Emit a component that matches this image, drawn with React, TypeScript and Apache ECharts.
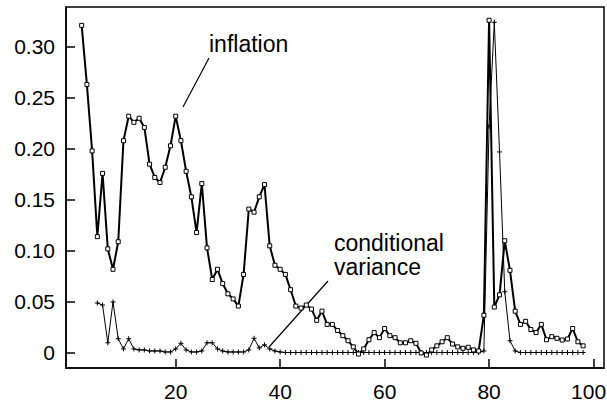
import React, { useEffect, useRef } from "react";
import * as echarts from "echarts";

// x positions start
const inflationStart = 2;
const inflationValues = [
  0.321, 0.263, 0.198, 0.114, 0.176, 0.102, 0.082, 0.109, 0.208, 0.232,
  0.226, 0.230, 0.221, 0.185, 0.172, 0.167, 0.182, 0.203, 0.232, 0.208,
  0.178, 0.153, 0.118, 0.166, 0.103, 0.072, 0.082, 0.068, 0.058, 0.053,
  0.046, 0.077, 0.141, 0.138, 0.153, 0.165, 0.105, 0.086, 0.082, 0.077,
  0.062, 0.046, 0.044, 0.047, 0.043, 0.032, 0.041, 0.028, 0.028, 0.022,
  0.017, 0.012, 0.006, -0.001, 0.004, 0.013, 0.020, 0.015, 0.024, 0.017,
  0.015, 0.010, 0.010, 0.012, 0.0095, 0.000, -0.002, 0.003, 0.007, 0.011,
  0.015, 0.0088, 0.006, 0.0046, 0.0056, 0.003, 0.002, 0.037, 0.326, 0.045,
  0.057, 0.110, 0.081, 0.041, 0.028, 0.031, 0.023, 0.020, 0.028, 0.013,
  0.016, 0.0144, 0.0127, 0.0137, 0.024, 0.011, 0.007,
];

const varianceStart = 5;
const varianceValues = [
  0.049, 0.047, 0.010, 0.050, 0.014, 0.004, 0.014, 0.004, 0.003, 0.003,
  0.002, 0.002, 0.002, 0.001, 0.001, 0.004, 0.0095, 0.003, 0.001, 0.001,
  0.002, 0.010, 0.010, 0.004, 0.002, 0.001, 0.001, 0.001, 0.001, 0.003,
  0.0144, 0.005, 0.008, 0.004, 0.002, 0.001, 0.0005, 0.0005, 0.0005, 0.0005,
  0.0005, 0.0005, 0.0005, 0.0005, 0.0005, 0.0005, 0.0005, 0.0005, 0.0005, 0.0005,
  0.0005, 0.0005, 0.0005, 0.0005, 0.0005, 0.0005, 0.0005, 0.0005, 0.0005, 0.0005,
  0.0005, 0.0005, 0.0005, 0.0005, 0.0005, 0.0005, 0.0005, 0.0005, 0.0005, 0.0005,
  0.0005, 0.0005, 0.0005, 0.0005, 0.002, 0.222, 0.324, 0.197, 0.060, 0.012,
  0.002, 0.0005, 0.0005, 0.0005, 0.0005, 0.0005, 0.0005, 0.0005, 0.0005, 0.0005,
  0.0005, 0.0005, 0.0005, 0.0005,
];

const xTicks = [20, 40, 60, 80, 100];
const yTicks = [0, 0.05, 0.1, 0.15, 0.2, 0.25, 0.3];

const FONT = '"Liberation Sans", Arial, Helvetica, sans-serif';

export default function App() {
  const ref = useRef<HTMLDivElement>(null);
  useEffect(() => {
    document.body.style.margin = "0";
    const chart = echarts.init(ref.current!, undefined, { renderer: "svg" });
    const inflationData = inflationValues.map((v, i) => [inflationStart + i, v]);
    const varianceData = varianceValues.map((v, i) => [varianceStart + i, v]);
    chart.setOption({
      animation: false,
      backgroundColor: "#fff",
      grid: {
        left: 66,
        top: 7,
        right: 3,
        bottom: 35,
        outerBoundsMode: "none",
        containLabel: false,
        show: true,
        borderColor: "#000",
        borderWidth: 1.5,
        backgroundColor: "transparent",
      },
      xAxis: {
        type: "value",
        min: -1,
        max: 102,
        splitLine: { show: false },
        axisLine: { show: true, onZero: false, lineStyle: { color: "#000", width: 1.5 } },
        axisTick: {
          show: true,
          inside: true,
          length: 9,
          customValues: xTicks,
          lineStyle: { color: "#000", width: 1.5 },
        },
        axisLabel: {
          customValues: xTicks,
          color: "#000",
          fontSize: 21,
          fontFamily: FONT,
          margin: 13,
          formatter: (v: number) => (v === 100 ? "{last|100}" : String(v)),
          rich: {
            last: {
              color: "#000",
              fontSize: 21,
              fontFamily: FONT,
              padding: [0, 10, 0, 0],
            },
          },
        },
      },
      yAxis: {
        type: "value",
        min: -0.0147,
        max: 0.339,
        splitLine: { show: false },
        axisLine: { show: true, onZero: false, lineStyle: { color: "#000", width: 1.5 } },
        axisTick: {
          show: true,
          inside: true,
          length: 9,
          customValues: yTicks,
          lineStyle: { color: "#000", width: 1.5 },
        },
        axisLabel: {
          customValues: yTicks,
          color: "#000",
          fontSize: 21,
          fontFamily: FONT,
          margin: 11,
          formatter: (v: number) => (v === 0 ? "0" : v.toFixed(2)),
        },
      },
      series: [
        {
          type: "line",
          data: varianceData,
          symbol: "path://M4,0L4,8M0,4L8,4",
          symbolSize: 5,
          showAllSymbol: true,
          lineStyle: { color: "#000", width: 1 },
          itemStyle: { color: "#000", borderColor: "#000", borderWidth: 1 },
          z: 2,
        },
        {
          type: "line",
          data: inflationData,
          symbol: "rect",
          symbolSize: 4,
          showAllSymbol: true,
          lineStyle: { color: "#000", width: 2 },
          itemStyle: { color: "#fff", borderColor: "#000", borderWidth: 1 },
          z: 3,
        },
      ],
      graphic: [
        {
          type: "text",
          x: 209,
          y: 44,
          style: { text: "inflation", fill: "#000", font: `23px ${FONT}`, textVerticalAlign: "middle" },
        },
        {
          type: "line",
          shape: { x1: 209, y1: 58, x2: 183, y2: 107 },
          style: { stroke: "#000", lineWidth: 1.2 },
        },
        {
          type: "text",
          x: 334,
          y: 243,
          style: { text: "conditional", fill: "#000", font: `23px ${FONT}`, textVerticalAlign: "middle" },
        },
        {
          type: "text",
          x: 334,
          y: 267,
          style: { text: "variance", fill: "#000", font: `23px ${FONT}`, textVerticalAlign: "middle" },
        },
        {
          type: "line",
          shape: { x1: 328, y1: 281, x2: 269, y2: 347 },
          style: { stroke: "#000", lineWidth: 1.2 },
        },
      ],
    });
    return () => chart.dispose();
  }, []);
  return <div ref={ref} style={{ width: 607, height: 403 }} />;
}
